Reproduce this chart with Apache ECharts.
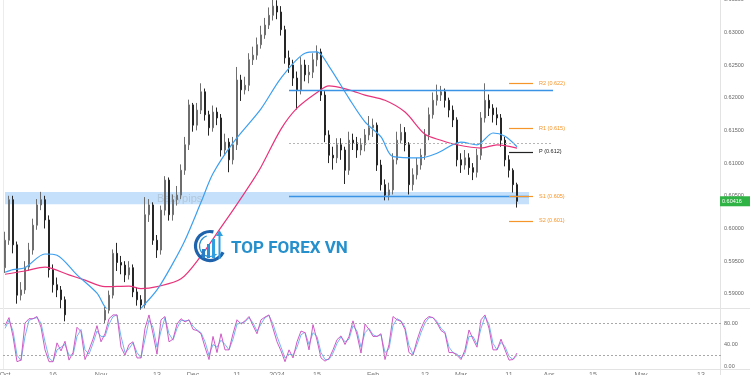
<!DOCTYPE html>
<html><head><meta charset="utf-8">
<script src="https://cdn.jsdelivr.net/npm/echarts@6/dist/echarts.min.js"></script>
<style>html,body{margin:0;padding:0;background:#fff}#c{width:750px;height:375px}</style>
</head><body><div id="c"></div>
<script>
// ---------- data ----------
const opens = [0.5940,0.5982,0.6044,0.5975,0.5898,0.5906,0.5941,0.5967,0.6005,0.6036,
0.6044,0.6013,0.5937,0.5914,0.5906,0.5891,0.5868,0.5852,0.5845,0.5829,
0.5837,0.5822,0.5829,0.5845,0.5837,0.5860,0.5875,0.5898,0.5962,0.5948,
0.5944,0.5929,0.5940,0.5903,0.5891,0.5883,0.6021,0.6036,0.5982,0.5967,
0.6028,0.6074,0.6021,0.6044,0.6051,0.6089,0.6128,0.6189,0.6158,0.6181,
0.6209,0.6174,0.6154,0.6178,0.6169,0.6120,0.6132,0.6105,0.6128,0.6227,
0.6212,0.6219,0.6258,0.6265,0.6281,0.6296,0.6311,0.6326,0.6340,0.6331,
0.6304,0.6261,0.6250,0.6230,0.6212,0.6250,0.6235,0.6239,0.6258,0.6270,
0.6204,0.6143,0.6112,0.6108,0.6128,0.6120,0.6089,0.6135,0.6131,0.6120,
0.6128,0.6143,0.6154,0.6158,0.6097,0.6067,0.6051,0.6059,0.6105,0.6135,
0.6147,0.6128,0.6067,0.6082,0.6097,0.6112,0.6143,0.6174,0.6196,0.6204,
0.6209,0.6196,0.6181,0.6166,0.6105,0.6097,0.6108,0.6093,0.6086,0.6112,
0.6169,0.6196,0.6184,0.6174,0.6169,0.6135,0.6105,0.6089,0.6067];
const closes = [0.5982,0.6044,0.5975,0.5898,0.5906,0.5941,0.5967,0.6005,0.6036,0.6044,
0.6013,0.5937,0.5914,0.5906,0.5891,0.5868,0.5852,0.5845,0.5829,0.5837,
0.5822,0.5829,0.5845,0.5837,0.5860,0.5875,0.5898,0.5962,0.5948,0.5944,
0.5929,0.5940,0.5903,0.5891,0.5883,0.6021,0.6036,0.5982,0.5967,0.6028,
0.6074,0.6021,0.6044,0.6051,0.6089,0.6128,0.6189,0.6158,0.6181,0.6209,
0.6174,0.6154,0.6178,0.6169,0.6120,0.6132,0.6105,0.6128,0.6227,0.6212,
0.6219,0.6258,0.6265,0.6281,0.6296,0.6311,0.6326,0.6340,0.6331,0.6304,
0.6261,0.6250,0.6230,0.6212,0.6250,0.6235,0.6239,0.6258,0.6270,0.6204,
0.6143,0.6112,0.6108,0.6128,0.6120,0.6089,0.6135,0.6131,0.6120,0.6128,
0.6143,0.6154,0.6158,0.6097,0.6067,0.6051,0.6059,0.6105,0.6135,0.6147,
0.6128,0.6067,0.6082,0.6097,0.6112,0.6143,0.6174,0.6196,0.6204,0.6209,
0.6196,0.6181,0.6166,0.6105,0.6097,0.6108,0.6093,0.6086,0.6112,0.6169,
0.6196,0.6184,0.6174,0.6169,0.6135,0.6105,0.6089,0.6067,0.60416];
const highs = [0.5995,0.6050,0.6050,0.5980,0.5918,0.5950,0.5978,0.6015,0.6045,0.6056,
0.6050,0.6020,0.5945,0.5925,0.5912,0.5896,0.5872,0.5860,0.5850,0.5845,
0.5842,0.5838,0.5852,0.5850,0.5866,0.5880,0.5905,0.5968,0.5978,0.5958,
0.5950,0.5950,0.5945,0.5910,0.5898,0.6048,0.6045,0.6040,0.5990,0.6035,
0.6080,0.6078,0.6052,0.6065,0.6098,0.6140,0.6197,0.6192,0.6192,0.6222,
0.6214,0.6180,0.6188,0.6185,0.6175,0.6145,0.6138,0.6140,0.6247,0.6235,
0.6232,0.6268,0.6278,0.6292,0.6310,0.6322,0.6338,0.6350,0.6349,0.6340,
0.6310,0.6272,0.6258,0.6240,0.6262,0.6258,0.6250,0.6268,0.6280,0.6275,
0.6210,0.6150,0.6125,0.6138,0.6138,0.6125,0.6148,0.6145,0.6140,0.6138,
0.6152,0.6172,0.6168,0.6162,0.6105,0.6075,0.6070,0.6115,0.6148,0.6160,
0.6155,0.6132,0.6092,0.6108,0.6122,0.6152,0.6185,0.6208,0.6220,0.6218,
0.6214,0.6200,0.6188,0.6170,0.6115,0.6120,0.6115,0.6100,0.6122,0.6178,
0.6222,0.6205,0.6190,0.6185,0.6175,0.6140,0.6112,0.6092,0.6070];
const lows = [0.5932,0.5975,0.5962,0.5885,0.5890,0.5900,0.5935,0.5960,0.5998,0.6028,
0.6000,0.5925,0.5902,0.5895,0.5878,0.5858,0.5840,0.5835,0.5818,0.5822,
0.5812,0.5815,0.5824,0.5828,0.5832,0.5854,0.5870,0.5893,0.5935,0.5930,
0.5918,0.5922,0.5895,0.5882,0.5876,0.5878,0.6010,0.5975,0.5955,0.5960,
0.6020,0.6012,0.6012,0.6035,0.6045,0.6082,0.6120,0.6148,0.6150,0.6175,
0.6165,0.6142,0.6148,0.6158,0.6110,0.6112,0.6086,0.6098,0.6120,0.6195,
0.6205,0.6210,0.6250,0.6258,0.6275,0.6290,0.6305,0.6318,0.6320,0.6295,
0.6252,0.6238,0.6218,0.6182,0.6205,0.6225,0.6222,0.6230,0.6248,0.6195,
0.6132,0.6100,0.6090,0.6100,0.6105,0.6068,0.6082,0.6120,0.6108,0.6112,
0.6118,0.6135,0.6140,0.6088,0.6058,0.6043,0.6043,0.6052,0.6098,0.6130,
0.6118,0.6052,0.6058,0.6075,0.6090,0.6105,0.6135,0.6168,0.6188,0.6195,
0.6185,0.6170,0.6155,0.6095,0.6085,0.6090,0.6082,0.6074,0.6078,0.6105,
0.6162,0.6172,0.6162,0.6158,0.6125,0.6095,0.6078,0.6055,0.6032];

// moving averages: [candle index, value]
const blueMA = [[0,0.5933],[2,0.5937],[5,0.5940],[10,0.5961],[13,0.5959],[18,0.5929],[23,0.5901],[25,0.5880],[28,0.5863],[31,0.5860],[34,0.5878],[38,0.5906],[42,0.5947],[45,0.5982],[49,0.6040],[52,0.6084],[57,0.6131],[64,0.6183],[69,0.6230],[75,0.6268],[78,0.6270],[81,0.6248],[86,0.6199],[90,0.6163],[94,0.6140],[97,0.6110],[104,0.6108],[108,0.6115],[114,0.6132],[118,0.6128],[122,0.6146],[125,0.6141],[128,0.6125]];
const pinkMA = [[0,0.5930],[5,0.5935],[10,0.5941],[16,0.5929],[20,0.5921],[25,0.5911],[31,0.5912],[34,0.5908],[38,0.5911],[44,0.5923],[49,0.5958],[53,0.5993],[57,0.6028],[62,0.6074],[64,0.6094],[69,0.6152],[73,0.6184],[78,0.6208],[81,0.6218],[86,0.6212],[90,0.6204],[95,0.6196],[100,0.6178],[105,0.6144],[109,0.6135],[113,0.6128],[119,0.6123],[123,0.6128],[128,0.6123]];

// oscillator
const stochK = [75,90,55,8,11,80,88,88,92,72,30,8,8,43,28,46,11,25,72,64,12,30,50,75,45,60,88,95,95,35,20,40,45,15,15,70,95,60,22,86,92,45,50,78,88,82,86,68,66,60,35,12,55,25,60,30,30,60,86,78,84,92,75,60,86,91,95,70,45,28,8,30,15,45,65,62,30,77,48,15,9,14,30,49,56,40,55,84,58,24,78,68,55,55,60,12,40,92,86,83,68,25,20,48,70,86,92,90,80,66,61,25,25,20,12,30,67,50,35,86,95,70,30,30,50,30,11,12,24];
const stochD = [70,85,65,20,10,55,85,88,90,80,45,15,8,30,35,40,20,20,55,68,30,22,42,65,55,55,78,92,95,55,25,32,43,25,15,50,85,72,35,65,90,60,48,70,85,84,85,74,67,62,45,20,40,35,48,40,30,50,78,80,82,90,80,65,78,90,94,78,55,35,15,22,20,35,58,63,40,62,55,25,12,12,24,42,54,45,50,75,65,35,62,70,58,55,58,25,32,75,88,84,72,38,22,40,62,80,90,90,83,70,63,35,25,22,15,24,55,55,40,70,92,78,42,30,44,36,18,12,20];

// levels
const resistanceLevel = 0.62107;
const supportLevel = 0.60486;
const midLevel = 0.61303;
const zoneTop = 0.60556, zoneBottom = 0.60372;
const pivotNames = ['R2','R1','P','S1','S2'];
const pivotValues = [0.62221,0.61532,0.61170,0.60486,0.60115];
const pivotShown = ['0.622','0.615','0.612','0.605','0.601'];
const lastPrice = 0.60416;

// ticks
const priceTicks = [0.590,0.595,0.600,0.605,0.610,0.615,0.620,0.625,0.630,0.635];
const oscTicks = [0,40,80];
const oscBands = [80,20];
const timeTickIdx = [0,12,24,38,47,58,68,78,92,105,114,126,136,147,159,174];
const timeTickText = ['Oct','16','Nov','13','Dec','11','2024','15','Feb','12','Mar','11','Apr','15','May','13'];

// ---------- chart ----------
const SLOTS = 180;
const cats = Array.from({length: SLOTS}, (_, i) => String(i));
const ohlc = opens.map((o, i) => [o, closes[i], lows[i], highs[i]]);
const FONT = 'Liberation Sans';
const orange = '#f5952a';

const pivotLines = pivotNames.map((n, i) => {
  const col = n === 'P' ? '#222' : orange;
  return [
    {coord: ['126', pivotValues[i]], lineStyle: {color: col, width: 1.2, type: 'solid'},
     label: {show: true, position: 'end', distance: 6, formatter: n + ' (' + pivotShown[i] + ')',
             color: col, fontSize: 5.5, fontFamily: FONT}},
    {coord: ['132', pivotValues[i]]}
  ];
});

const chart = echarts.init(document.getElementById('c'), null, {renderer: 'canvas'});
chart.setOption({
  animation: false,
  backgroundColor: '#ffffff',
  grid: [
    {left: 3, top: -0.4, width: 720, height: 308.4, outerBoundsMode: 'none', containLabel: false},
    {left: 3, top: 308, width: 720, height: 61, outerBoundsMode: 'none', containLabel: false}
  ],
  xAxis: [
    {type: 'category', data: cats, gridIndex: 0, show: false, boundaryGap: true},
    {type: 'category', data: cats, gridIndex: 1, boundaryGap: true,
     axisLine: {show: false}, axisTick: {show: false}, splitLine: {show: false},
     axisLabel: {interval: (idx) => timeTickIdx.indexOf(idx) >= 0,
       formatter: (v, idx) => { const k = timeTickIdx.indexOf(idx); return k >= 0 ? timeTickText[k] : ''; },
       fontSize: 7, color: '#777', margin: 3, fontFamily: FONT}}
  ],
  yAxis: [
    {type: 'value', gridIndex: 0, position: 'right', min: 0.58784, max: 0.635,
     axisLine: {show: false}, axisTick: {show: false}, splitLine: {show: false},
     axisLabel: {customValues: priceTicks, formatter: v => v.toFixed(5), fontSize: 5.5,
       color: '#666', margin: 1, align: 'left', fontFamily: FONT}},
    {type: 'value', gridIndex: 1, position: 'right', min: -5.6, max: 107.9,
     axisLine: {show: false}, axisTick: {show: false}, splitLine: {show: false},
     axisLabel: {customValues: oscTicks, formatter: v => v.toFixed(2), fontSize: 5.5,
       color: '#666', margin: 1, align: 'left', fontFamily: FONT}}
  ],
  series: [
    {type: 'candlestick', xAxisIndex: 0, yAxisIndex: 0, data: ohlc, barWidth: 2, clip: true,
     itemStyle: {color: '#8c8c8c', color0: '#262626', borderColor: '#6e6e6e', borderColor0: '#262626', borderWidth: 1},
     markArea: {silent: true, itemStyle: {color: 'rgba(90,165,240,0.35)'},
       data: [[{xAxis: '0', yAxis: zoneTop}, {xAxis: '131', yAxis: zoneBottom}]]},
     markLine: {silent: true, symbol: ['none', 'none'], animation: false,
       label: {show: false},
       data: [
         [{coord: ['71', resistanceLevel], lineStyle: {color: '#3b93e6', width: 1.3, type: 'solid'}}, {coord: ['137', resistanceLevel]}],
         [{coord: ['71', supportLevel], lineStyle: {color: '#3b93e6', width: 1.3, type: 'solid'}}, {coord: ['131', supportLevel]}],
         [{coord: ['71', midLevel], lineStyle: {color: '#b5b5b5', width: 1, type: [2, 2]}}, {coord: ['137', midLevel]}]
       ].concat(pivotLines)}
    },
    {type: 'line', xAxisIndex: 0, yAxisIndex: 0, data: pinkMA, smooth: 0.3, showSymbol: false,
     lineStyle: {color: '#e8337a', width: 1.2}, clip: true, z: 3},
    {type: 'line', xAxisIndex: 0, yAxisIndex: 0, data: blueMA, smooth: 0.3, showSymbol: false,
     lineStyle: {color: '#3d9ff0', width: 1.2}, clip: true, z: 3},
    {type: 'line', xAxisIndex: 1, yAxisIndex: 1, data: stochD, showSymbol: false,
     lineStyle: {color: '#74b6f2', width: 1}, clip: true},
    {type: 'line', xAxisIndex: 1, yAxisIndex: 1, data: stochK, showSymbol: false,
     lineStyle: {color: '#cf5bc6', width: 1}, clip: true,
     markLine: {silent: true, symbol: ['none', 'none'], label: {show: false},
       lineStyle: {color: '#a8a8a8', width: 1, type: [2, 2]},
       data: oscBands.map(v => ({yAxis: v}))}}
  ]
});

const py = chart.convertToPixel({yAxisIndex: 0}, lastPrice);
chart.setOption({
  graphic: [
    {type: 'line', shape: {x1: 720.5, y1: 0, x2: 720.5, y2: 375}, style: {stroke: '#e3e3e3', lineWidth: 1}, silent: true, z: 1},
    {type: 'line', shape: {x1: 0, y1: 308.5, x2: 750, y2: 308.5}, style: {stroke: '#e3e3e3', lineWidth: 1}, silent: true, z: 1},
    {type: 'line', shape: {x1: 0, y1: 369.5, x2: 750, y2: 369.5}, style: {stroke: '#e3e3e3', lineWidth: 1}, silent: true, z: 1},
    {type: 'line', shape: {x1: 3.5, y1: 0, x2: 3.5, y2: 369}, style: {stroke: '#ececec', lineWidth: 1}, silent: true, z: 1},
    {type: 'text', x: 157, y: 193, style: {text: 'Babypips', fontSize: 11, fontFamily: FONT, fill: 'rgba(110,110,110,0.22)'}, silent: true, z: 1},
    // logo
    {type: 'arc', shape: {cx: 210, cy: 246, r: 14.5, startAngle: 0.45, endAngle: 4.95}, style: {stroke: '#1f63ad', lineWidth: 3.2, fill: null}, silent: true, z: 20},
    {type: 'arc', shape: {cx: 210, cy: 246, r: 10.5, startAngle: 0.9, endAngle: 4.4}, style: {stroke: '#2a8fd4', lineWidth: 1.2, fill: null}, silent: true, z: 20},
    {type: 'rect', shape: {x: 202, y: 249, width: 3, height: 9}, style: {fill: '#2a7cc4'}, silent: true, z: 20},
    {type: 'rect', shape: {x: 207, y: 244, width: 3, height: 14}, style: {fill: '#2a8fd4'}, silent: true, z: 20},
    {type: 'rect', shape: {x: 212, y: 239, width: 3, height: 19}, style: {fill: '#2f9fe0'}, silent: true, z: 20},
    {type: 'line', shape: {x1: 219.5, y1: 259, x2: 219.5, y2: 234}, style: {stroke: '#2f9fe0', lineWidth: 2}, silent: true, z: 20},
    {type: 'polygon', shape: {points: [[216, 236], [219.5, 230], [223, 236]]}, style: {fill: '#2f9fe0'}, silent: true, z: 20},
    {type: 'text', x: 231, y: 248.5, style: {text: 'TOP FOREX VN', fontSize: 17, fontWeight: 'bold', fontFamily: 'Roboto', fill: '#2690cc', verticalAlign: 'middle'}, silent: true, z: 20},
    // last price tag
    {type: 'rect', shape: {x: 720, y: py - 5, width: 30, height: 10}, style: {fill: '#2fb344'}, silent: true, z: 30},
    {type: 'text', x: 722, y: py, style: {text: lastPrice.toFixed(5), fontSize: 5.5, fontFamily: FONT, fill: '#fff', verticalAlign: 'middle'}, silent: true, z: 31}
  ]
});
</script>
</body></html>
